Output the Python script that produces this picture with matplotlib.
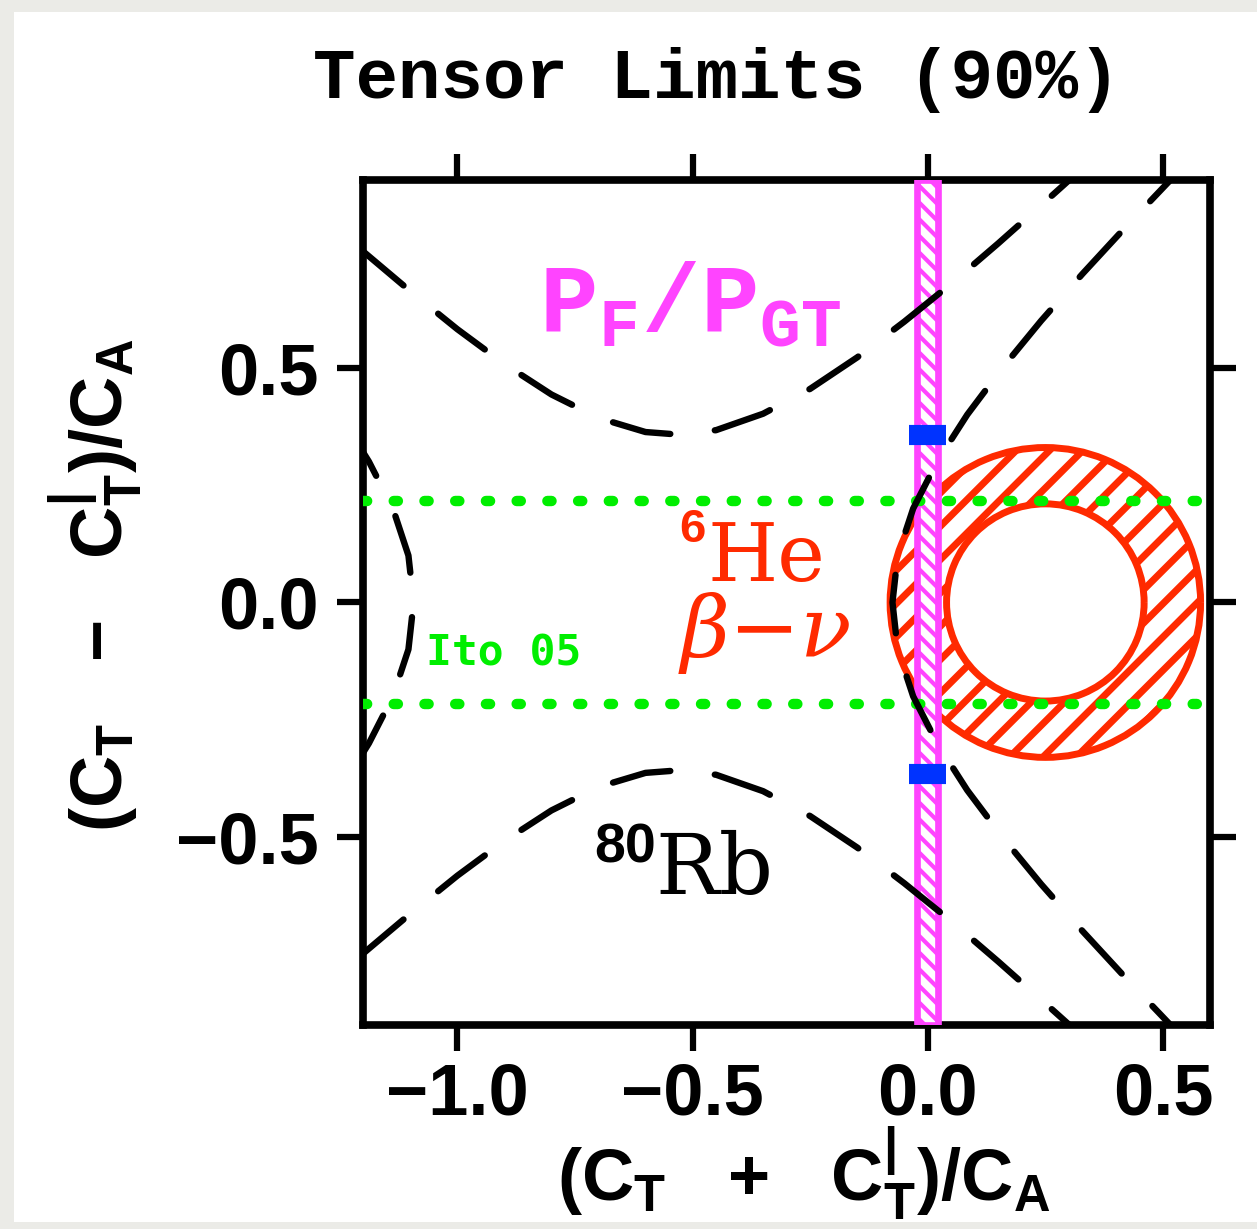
import matplotlib
matplotlib.use("Agg")
import matplotlib.pyplot as plt
from matplotlib.patches import Annulus, Rectangle

# 80Rb limit, vertical pair: upper branch (the lower branch is its mirror image)
rb_top_x = [-1.21, -1.1, -1.0, -0.9, -0.8, -0.7, -0.6, -0.535, -0.45, -0.35,
            -0.25, -0.15, -0.05, 0.05, 0.15, 0.25, 0.31]
rb_top_y = [0.756, 0.663, 0.582, 0.508, 0.443, 0.393, 0.363, 0.358, 0.367, 0.402,
            0.455, 0.522, 0.598, 0.679, 0.765, 0.854, 0.908]

# 80Rb limit, horizontal pair
rb_right_y = [-0.95, -0.9, -0.8, -0.7, -0.6, -0.5, -0.4, -0.3, -0.2, -0.1, 0.0,
              0.1, 0.2, 0.3, 0.4, 0.5, 0.6, 0.7, 0.8, 0.9, 0.95]
rb_right_x = [0.564, 0.516, 0.421, 0.329, 0.241, 0.159, 0.084, 0.020, -0.031, -0.064, -0.075,
              -0.064, -0.031, 0.020, 0.084, 0.159, 0.241, 0.329, 0.421, 0.516, 0.564]
rb_left_y = [-0.35, -0.3, -0.2, -0.1, 0.0, 0.1, 0.2, 0.3, 0.35]
rb_left_x = [-1.219, -1.188, -1.137, -1.104, -1.093, -1.104, -1.137, -1.188, -1.219]

# 6He beta-nu ring
he_center = (0.25, 0.0)
he_r_out = 0.33
he_r_in = 0.21

# P_F/P_GT band and its blue marks
pf_band = (-0.022, 0.022)
pf_marks_x = [0.0, 0.0]
pf_marks_y = [0.356, -0.365]

# Ito 05 limits
ito_y = [-0.216, 0.216]

xticks = [-1.0, -0.5, 0.0, 0.5]
xtick_labels = ["\u22121.0", "\u22120.5", "0.0", "0.5"]
yticks = [-0.5, 0.0, 0.5]
ytick_labels = ["\u22120.5", "0.0", "0.5"]

RED = "#ff2a00"
MAG = "#ff44ff"
GREEN = "#00ee00"
BLUE = "#0033ff"

plt.rcParams["mathtext.fontset"] = "custom"
plt.rcParams["mathtext.bf"] = "Liberation Sans:bold"
plt.rcParams["mathtext.rm"] = "Liberation Sans:bold"
plt.rcParams["mathtext.tt"] = "Liberation Mono:bold"
plt.rcParams["hatch.linewidth"] = 5.0

fig = plt.figure(figsize=(12.57, 12.29), dpi=100, facecolor="#ebebe7")
fig.patches.append(Rectangle((0.011, 0.006), 0.989, 0.984, transform=fig.transFigure,
                             facecolor="white", edgecolor="none", zorder=-10))
ax = fig.add_axes([0.289, 0.166, 0.6736, 0.6876])
ax.set_xlim(-1.2, 0.6)
ax.set_ylim(-0.9, 0.9)

# 6He ring
ring = Annulus(he_center, he_r_out, he_r_out - he_r_in, facecolor="none",
               edgecolor=RED, hatch="/", lw=5.0, zorder=2)
ax.add_patch(ring)

# P_F/P_GT band
band = ax.axvspan(pf_band[0], pf_band[1], facecolor="white", edgecolor=MAG,
                  hatch="\\\\", lw=4.8, zorder=3)
if hasattr(band, "set_hatch_linewidth"):
    band.set_hatch_linewidth(3.0)

# Ito 05
for y in ito_y:
    ax.axhline(y, color=GREEN, lw=7.5, dashes=(0.4, 2.55), dash_capstyle="round", zorder=4)

# 80Rb hyperbolas
dash = dict(color="black", lw=4.6, dashes=(9.2, 7.0), dash_capstyle="round", zorder=5)
ax.plot(rb_top_x, rb_top_y, **dash)
ax.plot(rb_top_x, [-v for v in rb_top_y], **dash)
ax.plot(rb_right_x, rb_right_y, **dash)
ax.plot(rb_left_x, rb_left_y, **dash)

# blue marks on the band
ax.hlines(pf_marks_y, [x - 0.039 for x in pf_marks_x], [x + 0.039 for x in pf_marks_x],
          colors=BLUE, lw=14.5, zorder=6)

# labels inside the plot
ax.text(-0.826, 0.578, r"$\mathtt{P_F/P_{GT}}$", color=MAG, fontsize=70, zorder=7)

ax.text(-0.472, 0.201, "6", color=RED, fontsize=34, family="Liberation Sans",
        fontweight="bold", ha="right", va="top", zorder=7)
ax.text(-0.468, 0.046, "He", color=RED, fontsize=58, family="DejaVu Serif", zorder=7)
ax.text(-0.525, -0.114, "\u03b2\u2212\u03bd", color=RED, fontsize=61,
        family="DejaVu Serif", style="italic", zorder=7)

ax.text(-0.578, -0.469, "80", color="black", fontsize=40, family="Liberation Sans",
        fontweight="bold", ha="right", va="top", zorder=7)
ax.text(-0.578, -0.620, "Rb", color="black", fontsize=61, family="DejaVu Serif", zorder=7)

ax.text(-1.067, -0.135, "Ito 05", color=GREEN, fontsize=31, family="DejaVu Sans Mono",
        fontweight="bold", zorder=7)

# title
ax.text(0.418, 1.097, "Tensor Limits (90%)", transform=ax.transAxes, ha="center",
        va="baseline", fontsize=51, family="Liberation Mono", fontweight="bold")

# axes styling
for s in ax.spines.values():
    s.set_linewidth(5.5)
ax.set_xticks(xticks)
ax.set_xticklabels(xtick_labels, family="Liberation Sans", fontweight="bold", fontsize=52)
ax.set_yticks(yticks)
ax.set_yticklabels(ytick_labels, family="Liberation Sans", fontweight="bold", fontsize=52)
ax.tick_params(direction="out", length=19, width=4.5, top=True, right=True)
ax.tick_params(axis="x", pad=7)
ax.tick_params(axis="y", pad=13)

ax.set_xlabel(r"$\mathbf{(C_T\ \ +\ \ C^{|}_T)/C_A}$", fontsize=52)
ax.xaxis.set_label_coords(0.52, -0.118)
ax.set_ylabel(r"$\mathbf{(C_T\ \ -\ \ C^{|}_T)/C_A}$", fontsize=52)
ax.yaxis.set_label_coords(-0.258, 0.52)

fig.savefig("out.png", dpi=100, facecolor=fig.get_facecolor())
